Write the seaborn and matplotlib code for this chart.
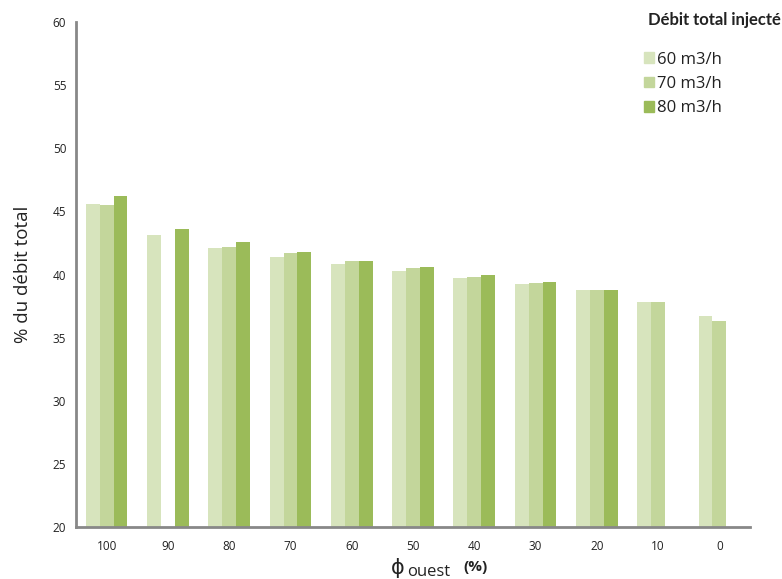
import numpy as np
import pandas as pd
import matplotlib.pyplot as plt
import seaborn as sns

phi_ouest = ["100", "90", "80", "70", "60", "50", "40", "30", "20", "10", "0"]
debit_60 = [45.6, 43.1, 42.1, 41.4, 40.8, 40.3, 39.7, 39.25, 38.8, 37.8, 36.75]
debit_70 = [45.5, np.nan, 42.2, 41.7, 41.05, 40.5, 39.8, 39.35, 38.8, 37.8, 36.3]
debit_80 = [46.2, 43.6, 42.6, 41.8, 41.1, 40.6, 40.0, 39.4, 38.8, np.nan, np.nan]
series = ["60 m3/h", "70 m3/h", "80 m3/h"]
colors = ["#d7e4bd", "#c3d69b", "#9bbb59"]

df = pd.DataFrame({"phi": phi_ouest, series[0]: debit_60,
                   series[1]: debit_70, series[2]: debit_80})
df = df.melt(id_vars="phi", var_name="debit", value_name="pct")

sns.set_style("white")
plt.rcParams["font.family"] = ["Open Sans", "DejaVu Sans"]

fig = plt.figure(figsize=(7.82, 5.79), dpi=100)
ax = fig.add_axes([0.0972, 0.0898, 0.8619, 0.872])

sns.barplot(data=df, x="phi", y="pct", hue="debit", order=phi_ouest,
            hue_order=series, palette=colors, width=0.68, saturation=1,
            linewidth=0, ax=ax, legend=False)

ax.set_ylim(20, 60)
ax.set_xlim(-0.5, len(phi_ouest) - 0.5)
ax.set_yticks(range(20, 61, 5))
ax.tick_params(axis="both", length=0, labelsize=8.5, colors="#222222")
ax.tick_params(axis="x", pad=9)
ax.tick_params(axis="y", pad=7)
ax.set_xlabel("")
ax.set_ylabel("% du débit total", fontsize=13.5, color="#222222", labelpad=15)
for s in ["top", "right"]:
    ax.spines[s].set_visible(False)
for s in ["left", "bottom"]:
    ax.spines[s].set_color("#888888")
    ax.spines[s].set_linewidth(2)

# x label: phi ouest (%)
fig.text(0.508, 0.008, "ϕ", fontsize=15, color="#222222", ha="center", va="baseline",
         family=["DejaVu Sans"])
fig.text(0.521, 0.006, "ouest", fontsize=12, color="#222222", ha="left", va="baseline")
fig.text(0.592, 0.014, "(%)", fontsize=11, fontweight="bold", color="#222222",
         ha="left", va="baseline")

# legend
fig.text(0.999, 0.966, "Débit total injecté", fontsize=12, fontweight="bold",
         color="#222222", ha="right", va="center", family=["Lato", "DejaVu Sans"])
handles = [plt.Rectangle((0, 0), 1, 1, color=c) for c in colors]
leg = fig.legend(handles, series, loc="upper left", bbox_to_anchor=(0.824, 0.911),
                 frameon=False, fontsize=12, borderpad=0, borderaxespad=0,
                 handlelength=0.6, handleheight=0.6, handletextpad=0.15,
                 labelspacing=0.5)
for t in leg.get_texts():
    t.set_color("#222222")

fig.savefig("out.png", dpi=100)
